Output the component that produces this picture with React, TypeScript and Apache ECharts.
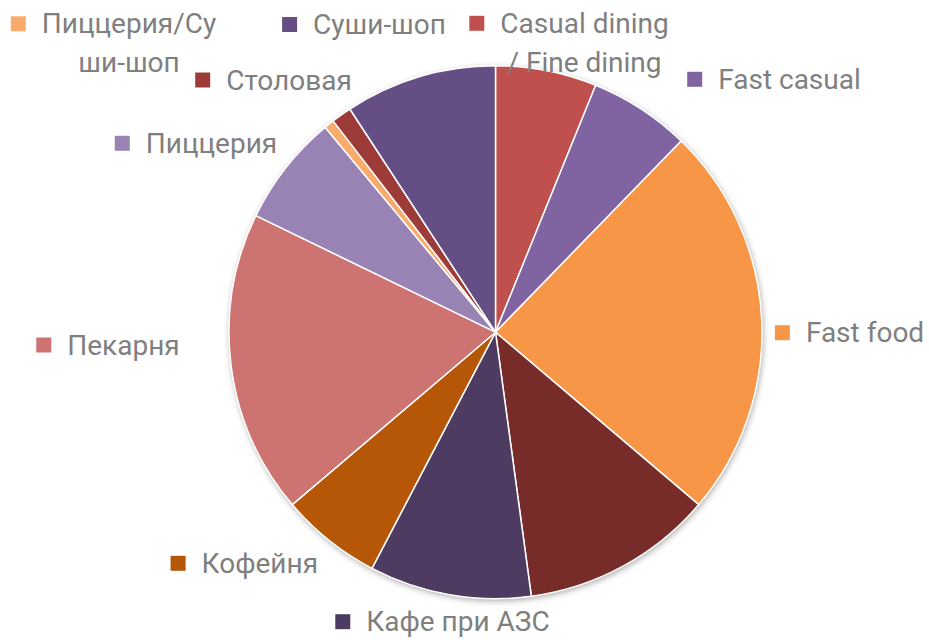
import React, { useEffect, useRef } from "react";
import * as echarts from "echarts";

// Data
const categories = [
  "Casual dining / Fine dining",
  "Fast casual",
  "Fast food",
  "Кафе",
  "Кафе при АЗС",
  "Кофейня",
  "Пекарня",
  "Пиццерия",
  "Пиццерия/Суши-шоп",
  "Столовая",
  "Суши-шоп",
];
const values = [10, 10, 39, 19, 16, 10, 30, 11, 1, 2, 15];
// Displayed label lines (as wrapped in the chart); empty = no label shown
const labelTexts = [
  "Casual dining\n/ Fine dining",
  "Fast casual",
  "Fast food",
  "",
  "Кафе при АЗС",
  "Кофейня",
  "Пекарня",
  "Пиццерия",
  "Пиццерия/Су\nши-шоп",
  "Столовая",
  "Суши-шоп",
];
const colors = [
  "#C0504D",
  "#8064A2",
  "#F79646",
  "#772C2A",
  "#4D3B62",
  "#B65708",
  "#CD7371",
  "#9983B5",
  "#F9AB6B",
  "#9D3B38",
  "#654E84",
];

// Layout (label block centres, as placed in the original chart)
const labelPos: [number, number][] = [
  [569, 42.8],
  [774, 79.3],
  [849.5, 332.7],
  [0, 0],
  [442.5, 621.7],
  [244.3, 563.3],
  [108, 345],
  [196, 143.3],
  [113.5, 43.3],
  [273.5, 80],
  [364, 24.5],
];
const CENTER = [495.5, 332.2];
const RADIUS = 266.5;
const FONT = 'Roboto, "Noto Sans", sans-serif';

export default function App() {
  const ref = useRef<HTMLDivElement>(null);
  useEffect(() => {
    if (!ref.current) return;
    const chart = echarts.init(ref.current, undefined, { renderer: "svg" });
    const rich: Record<string, any> = {
      t: {
        fontSize: 28,
        fontFamily: FONT,
        color: "#7F7F7F",
        padding: [0, 0, 0, 16],
        lineHeight: 39,
      },
      s: { width: 15, height: 15 },
    };
    colors.forEach((c, i) => {
      rich["m" + i] = { width: 15, height: 15, backgroundColor: c };
    });
    const data = categories.map((name, i) => ({
      name,
      value: values[i],
      label: { show: labelTexts[i] !== "" },
    }));
    chart.setOption({
      animation: false,
      backgroundColor: "#ffffff",
      color: colors,
      series: [
        {
          type: "pie",
          silent: true,
          center: CENTER,
          radius: RADIUS,
          z: 1,
          label: { show: false },
          labelLine: { show: false },
          itemStyle: {
            color: "#ffffff",
            shadowBlur: 6,
            shadowColor: "rgba(0,0,0,0.35)",
            shadowOffsetX: 1,
            shadowOffsetY: 2,
          },
          data: [{ name: "", value: 1 }],
        },
        {
          type: "pie",
          center: CENTER,
          radius: RADIUS,
          z: 2,
          startAngle: 90,
          clockwise: true,
          avoidLabelOverlap: false,
          itemStyle: { borderColor: "#ffffff", borderWidth: 1.5 },
          label: {
            show: true,
            position: "inside",
            align: "center",
            verticalAlign: "middle",
            rich,
            formatter: (p: any) => {
              const lines = labelTexts[p.dataIndex].split("\n");
              return lines
                .map((l, k) =>
                  k === 0 ? `{m${p.dataIndex}|}{t|${l}}` : `{s|}{t|${l}}`
                )
                .join("\n");
            },
          },
          labelLine: { show: false },
          labelLayout: (params: any) => {
            const pos = labelPos[params.dataIndex];
            return {
              x: pos[0],
              y: pos[1],
              align: "center",
              verticalAlign: "middle",
            };
          },
          data,
        },
      ],
    });
    return () => chart.dispose();
  }, []);
  return (
    <div
      ref={ref}
      style={{ position: "absolute", left: 0, top: 0, width: 929, height: 640 }}
    />
  );
}
